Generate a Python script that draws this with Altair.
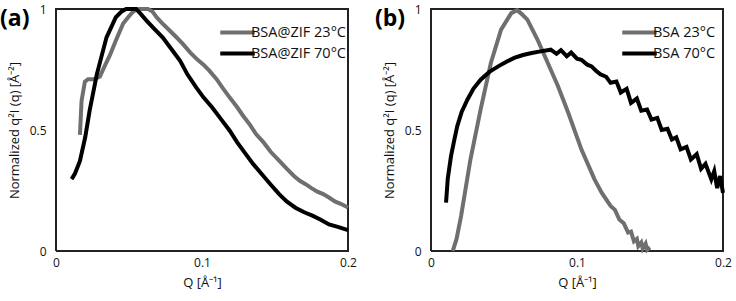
import altair as alt
import pandas as pd

# ---- data ----
a_gray_x = [0.0164, 0.0175, 0.0198, 0.022, 0.026, 0.030, 0.033, 0.037, 0.041, 0.046, 0.050, 0.053, 0.057, 0.060, 0.063, 0.066, 0.069, 0.073, 0.078, 0.083, 0.087, 0.092, 0.097, 0.101, 0.105, 0.110, 0.114, 0.119, 0.124, 0.128, 0.133, 0.137, 0.142, 0.147, 0.153, 0.158, 0.163, 0.167, 0.171, 0.175, 0.179, 0.183, 0.187, 0.191, 0.195, 0.2]
a_gray_y = [0.48, 0.62, 0.70, 0.71, 0.71, 0.72, 0.76, 0.81, 0.87, 0.94, 0.97, 0.99, 1.0, 1.0, 1.0, 0.99, 0.965, 0.94, 0.91, 0.88, 0.855, 0.82, 0.79, 0.77, 0.745, 0.71, 0.675, 0.634, 0.595, 0.56, 0.52, 0.483, 0.45, 0.41, 0.372, 0.34, 0.31, 0.29, 0.276, 0.26, 0.245, 0.235, 0.221, 0.205, 0.195, 0.18]
a_black_x = [0.0107, 0.013, 0.0164, 0.020, 0.023, 0.028, 0.0346, 0.041, 0.045, 0.048, 0.052, 0.055, 0.058, 0.062, 0.067, 0.073, 0.079, 0.085, 0.090, 0.096, 0.101, 0.107, 0.113, 0.119, 0.124, 0.130, 0.135, 0.141, 0.147, 0.153, 0.158, 0.164, 0.170, 0.176, 0.181, 0.187, 0.193, 0.2]
a_black_y = [0.297, 0.32, 0.372, 0.47, 0.579, 0.731, 0.883, 0.966, 0.99, 1.0, 1.0, 1.0, 0.98, 0.952, 0.92, 0.883, 0.835, 0.786, 0.73, 0.676, 0.635, 0.593, 0.545, 0.497, 0.45, 0.40, 0.36, 0.317, 0.275, 0.234, 0.205, 0.179, 0.16, 0.145, 0.13, 0.11, 0.10, 0.086]

b_gray_x = [0.0149, 0.0175, 0.0206, 0.027, 0.034, 0.041, 0.048, 0.055, 0.059, 0.062, 0.066, 0.073, 0.080, 0.087, 0.094, 0.103, 0.112, 0.117, 0.123, 0.126, 0.129, 0.132, 0.135, 0.137, 0.139, 0.141, 0.142, 0.144, 0.145, 0.147, 0.148, 0.150]
b_gray_y = [0.0, 0.05, 0.144, 0.378, 0.585, 0.777, 0.915, 0.983, 0.995, 0.98, 0.956, 0.873, 0.777, 0.681, 0.571, 0.42, 0.296, 0.24, 0.186, 0.17, 0.13, 0.115, 0.076, 0.08, 0.04, 0.05, 0.02, 0.035, 0.01, 0.03, 0.005, 0.015]
b_black_x = [0.0103, 0.0115, 0.0137, 0.016, 0.018, 0.021, 0.025, 0.029, 0.034, 0.040, 0.046, 0.052, 0.057, 0.063, 0.069, 0.075, 0.082, 0.086, 0.089, 0.093, 0.096, 0.100, 0.103, 0.107, 0.110, 0.113, 0.116, 0.120, 0.123, 0.127, 0.130, 0.134, 0.137, 0.141, 0.144, 0.148, 0.151, 0.155, 0.158, 0.162, 0.165, 0.168, 0.171, 0.175, 0.178, 0.182, 0.185, 0.188, 0.192, 0.194, 0.196, 0.198, 0.2]
b_black_y = [0.2, 0.3, 0.392, 0.46, 0.516, 0.575, 0.626, 0.67, 0.708, 0.74, 0.763, 0.783, 0.798, 0.81, 0.818, 0.825, 0.832, 0.815, 0.83, 0.805, 0.82, 0.795, 0.79, 0.77, 0.763, 0.745, 0.73, 0.72, 0.695, 0.70, 0.655, 0.67, 0.612, 0.63, 0.58, 0.585, 0.543, 0.55, 0.50, 0.505, 0.461, 0.47, 0.42, 0.43, 0.378, 0.40, 0.34, 0.36, 0.296, 0.33, 0.26, 0.31, 0.24]

a_series = ["BSA@ZIF 23°C", "BSA@ZIF 70°C"]
b_series = ["BSA 23°C", "BSA 70°C"]
x_ticks = [0, 0.1, 0.2]
y_ticks = [0, 0.5, 1]

GRAY = "#6f6f6f"
BLACK = "#000000"
FRAME = "#222222"
FONT = "Open Sans"

def frame(xs, ys, name):
    return pd.DataFrame({"q": xs, "v": ys, "s": name, "o": range(len(xs))})

def panel(df, names, label, legend_x):
    xs = alt.Scale(domain=[x_ticks[0], x_ticks[-1]], nice=False)
    ys = alt.Scale(domain=[y_ticks[0], y_ticks[-1]], nice=False)
    x = alt.X("q:Q", scale=xs,
              axis=alt.Axis(values=x_ticks, format="~g", title="Q [Å⁻¹]",
                            grid=False, ticks=False, domain=False, labelFlush=False,
                            labelPadding=6, titlePadding=8))
    y = alt.Y("v:Q", scale=ys,
              axis=alt.Axis(values=y_ticks, format="~g",
                            title="Normalized q²I (q) [Å⁻²]", labelFlush=False,
                            grid=False, ticks=False, domain=False,
                            labelPadding=10, titlePadding=8))
    # frame of the plot area, traced through the corners of the axis domains
    x0, x1 = x_ticks[0], x_ticks[-1]
    y0, y1 = y_ticks[0], y_ticks[-1]
    corners = pd.DataFrame({"q": [x0, x0, x1, x1, x0], "v": [y0, y1, y1, y0, y0],
                            "o": [0, 1, 2, 3, 4]})
    box = alt.Chart(corners).mark_line(strokeWidth=2, color=FRAME).encode(
        x=alt.X("q:Q", scale=xs), y=alt.Y("v:Q", scale=ys), order="o:Q")
    lines = alt.Chart(df).mark_line(strokeWidth=4).encode(
        x=x, y=y, order="o:Q",
        color=alt.Color("s:N", scale=alt.Scale(domain=names, range=[GRAY, BLACK]),
                        legend=alt.Legend(title=None, orient="none",
                                          legendX=legend_x, legendY=14,
                                          symbolType="M-2.3,0L2.3,0", symbolSize=225,
                                          symbolStrokeWidth=4, labelFontSize=14.5,
                                          labelFont=FONT, labelColor="#111",
                                          labelOffset=4, rowPadding=3, padding=0)),
    )
    tag = alt.Chart(pd.DataFrame({"t": [label]})).mark_text(
        fontSize=23, fontWeight="bold", font=FONT, align="left",
        baseline="middle", color="#000"
    ).encode(x=alt.value(-56), y=alt.value(10), text="t:N")
    return alt.layer(box, lines, tag).properties(width=292, height=242)

pa = panel(pd.concat([frame(a_gray_x, a_gray_y, a_series[0]),
                      frame(a_black_x, a_black_y, a_series[1])]), a_series, "(a)", 172)
pb = panel(pd.concat([frame(b_gray_x, b_gray_y, b_series[0]),
                      frame(b_black_x, b_black_y, b_series[1])]), b_series, "(b)", 199)

chart = alt.hconcat(pa, pb, spacing=18).resolve_scale(color="independent").properties(
    padding={"left": 0, "top": 1, "right": 0, "bottom": 0}
).configure_view(strokeWidth=0).configure_axis(
    labelFont=FONT, titleFont=FONT, labelFontSize=12, titleFontSize=13,
    labelColor="#111", titleColor="#111", titleFontWeight="normal"
)

chart.save("out.html", embed_options={"renderer": "svg", "actions": False})
